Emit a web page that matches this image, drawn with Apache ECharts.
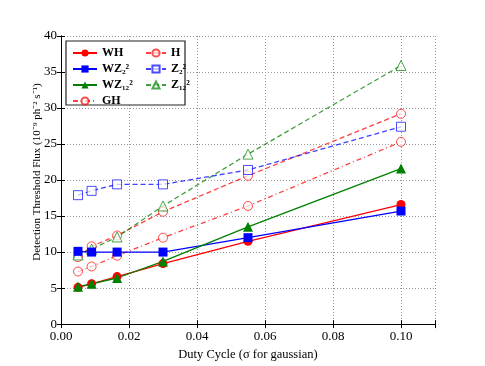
<!DOCTYPE html>
<html>
<head>
<meta charset="utf-8">
<script src="https://cdn.jsdelivr.net/npm/echarts@6/dist/echarts.min.js"></script>
<style>
  html, body { margin: 0; padding: 0; background: #fff; }
  #chart { width: 485px; height: 366px; }
</style>
</head>
<body>
<div id="chart"></div>
<script>
  // duty cycles (x)
  var dutyCycles = [0.005, 0.009, 0.0165, 0.03, 0.055, 0.1];
  // detection threshold values (y) for each test
  var wh = [5.1, 5.6, 6.6, 8.4, 11.5, 16.6];
  var wz2 = [10.1, 10.0, 10.0, 10.0, 12.0, 15.7];
  var wz12 = [5.2, 5.6, 6.4, 8.7, 13.5, 21.6];
  var gh = [7.3, 8.0, 9.5, 12.0, 16.4, 25.3];
  var h = [9.3, 10.8, 12.3, 15.6, 20.6, 29.2];
  var z2 = [17.9, 18.5, 19.4, 19.4, 21.4, 27.4];
  var z12 = [9.6, 10.4, 12.1, 16.4, 23.6, 35.9];
  var xTicks = [0.00, 0.02, 0.04, 0.06, 0.08, 0.10];
  var yTicks = [0, 5, 10, 15, 20, 25, 30, 35, 40];

  var font = 'Liberation Serif';
  var red = '#ff0000', blue = '#0000ff', green = '#008000';

  function pairs(vals) {
    return dutyCycles.map(function (x, i) { return [x, vals[i]]; });
  }

  function mk(name, vals, color, symbol, lineType, open) {
    return {
      name: name,
      type: 'line',
      data: pairs(vals),
      symbol: symbol,
      symbolSize: symbol === 'triangle' ? 10 : 9,
      showSymbol: true,
      color: color,
      itemStyle: open
        ? { color: '#fff', borderColor: color, borderWidth: 1, opacity: 0.7 }
        : { color: color, borderWidth: 0 },
      lineStyle: { color: color, width: 1.3, type: lineType, opacity: open ? 0.75 : 1 },
      emphasis: { disabled: true },
      animation: false,
      z: open ? 3 : 4
    };
  }

  var chart = echarts.init(document.getElementById('chart'));
  var option = {
    animation: false,
    textStyle: { fontFamily: font },
    grid: { left: 61, right: 50, top: 36, bottom: 39 },
    xAxis: [{
      type: 'value',
      min: 0, max: 0.11, interval: 0.02,
      name: 'Duty Cycle (σ for gaussian)',
      nameLocation: 'middle',
      nameGap: 21,
      nameTextStyle: { fontFamily: font, fontSize: 12.5, color: '#000' },
      axisLine: { lineStyle: { color: '#000', width: 1 } },
      axisTick: { inside: true, length: 4, lineStyle: { color: '#000' } },
      axisLabel: {
        fontFamily: font, fontSize: 13, color: '#000', margin: 6,
        formatter: function (v) { return xTicks.some(function (t) { return Math.abs(t - v) < 1e-9; }) ? v.toFixed(2) : ''; }
      },
      splitLine: { show: true, lineStyle: { color: '#999', type: [1, 2] } }
    }, {
      type: 'value', position: 'top',
      min: 0, max: 0.11, interval: 0.02,
      axisLine: { show: true, lineStyle: { color: '#000' } },
      axisTick: { inside: true, length: 4, lineStyle: { color: '#000' } },
      axisLabel: { show: false },
      splitLine: { show: false }
    }],
    yAxis: [{
      type: 'value',
      min: 0, max: 40, interval: 5,
      name: 'Detection Threshold Flux (10⁻⁹ ph⁻² s⁻¹)',
      nameLocation: 'middle',
      nameGap: 18,
      nameMoveOverlap: false,
      nameTextStyle: { fontFamily: font, fontSize: 11, color: '#000', padding: [0, 0, 0, 16] },
      axisLine: { show: true, lineStyle: { color: '#000', width: 1 } },
      axisTick: { inside: true, length: 4, lineStyle: { color: '#000' } },
      axisLabel: { fontFamily: font, fontSize: 13, color: '#000', margin: 4 },
      splitLine: { show: true, lineStyle: { color: '#999', type: [1, 2] } }
    }, {
      type: 'value', position: 'right',
      min: 0, max: 40, interval: 5,
      axisLine: { show: true, lineStyle: { color: '#000' } },
      axisTick: { show: true, inside: true, length: 4, lineStyle: { color: '#000' } },
      axisLabel: { show: false },
      splitLine: { show: false }
    }],
    legend: [{
      data: ['WH', 'WZ₂²', 'WZ₁₂²', 'GH'],
      orient: 'vertical',
      left: 67, top: 42,
      itemWidth: 24, itemHeight: 9, itemGap: 4,
      textStyle: { fontFamily: font, fontSize: 12, fontWeight: 'bold', color: '#000' },
      selectedMode: false,
      z: 10
    }, {
      data: ['H', 'Z₂²', 'Z₁₂²'],
      orient: 'vertical',
      left: 140, top: 42,
      itemWidth: 20, itemHeight: 9, itemGap: 4,
      textStyle: { fontFamily: font, fontSize: 12, fontWeight: 'bold', color: '#000' },
      selectedMode: false,
      z: 10
    }],
    graphic: [{
      type: 'rect',
      shape: { x: 66, y: 41, width: 119, height: 64 },
      style: { fill: '#fff', stroke: '#222', lineWidth: 1.2 },
      z: 1
    }],
    series: [
      mk('WH', wh, red, 'circle', 'solid', false),
      mk('WZ₂²', wz2, blue, 'rect', 'solid', false),
      mk('WZ₁₂²', wz12, green, 'triangle', 'solid', false),
      mk('GH', gh, red, 'circle', [5, 3, 1, 3], true),
      mk('H', h, red, 'circle', [5, 3], true),
      mk('Z₂²', z2, blue, 'rect', [5, 3], true),
      mk('Z₁₂²', z12, green, 'triangle', [5, 3], true)
    ]
  };
  chart.setOption(option);
</script>
</body>
</html>
